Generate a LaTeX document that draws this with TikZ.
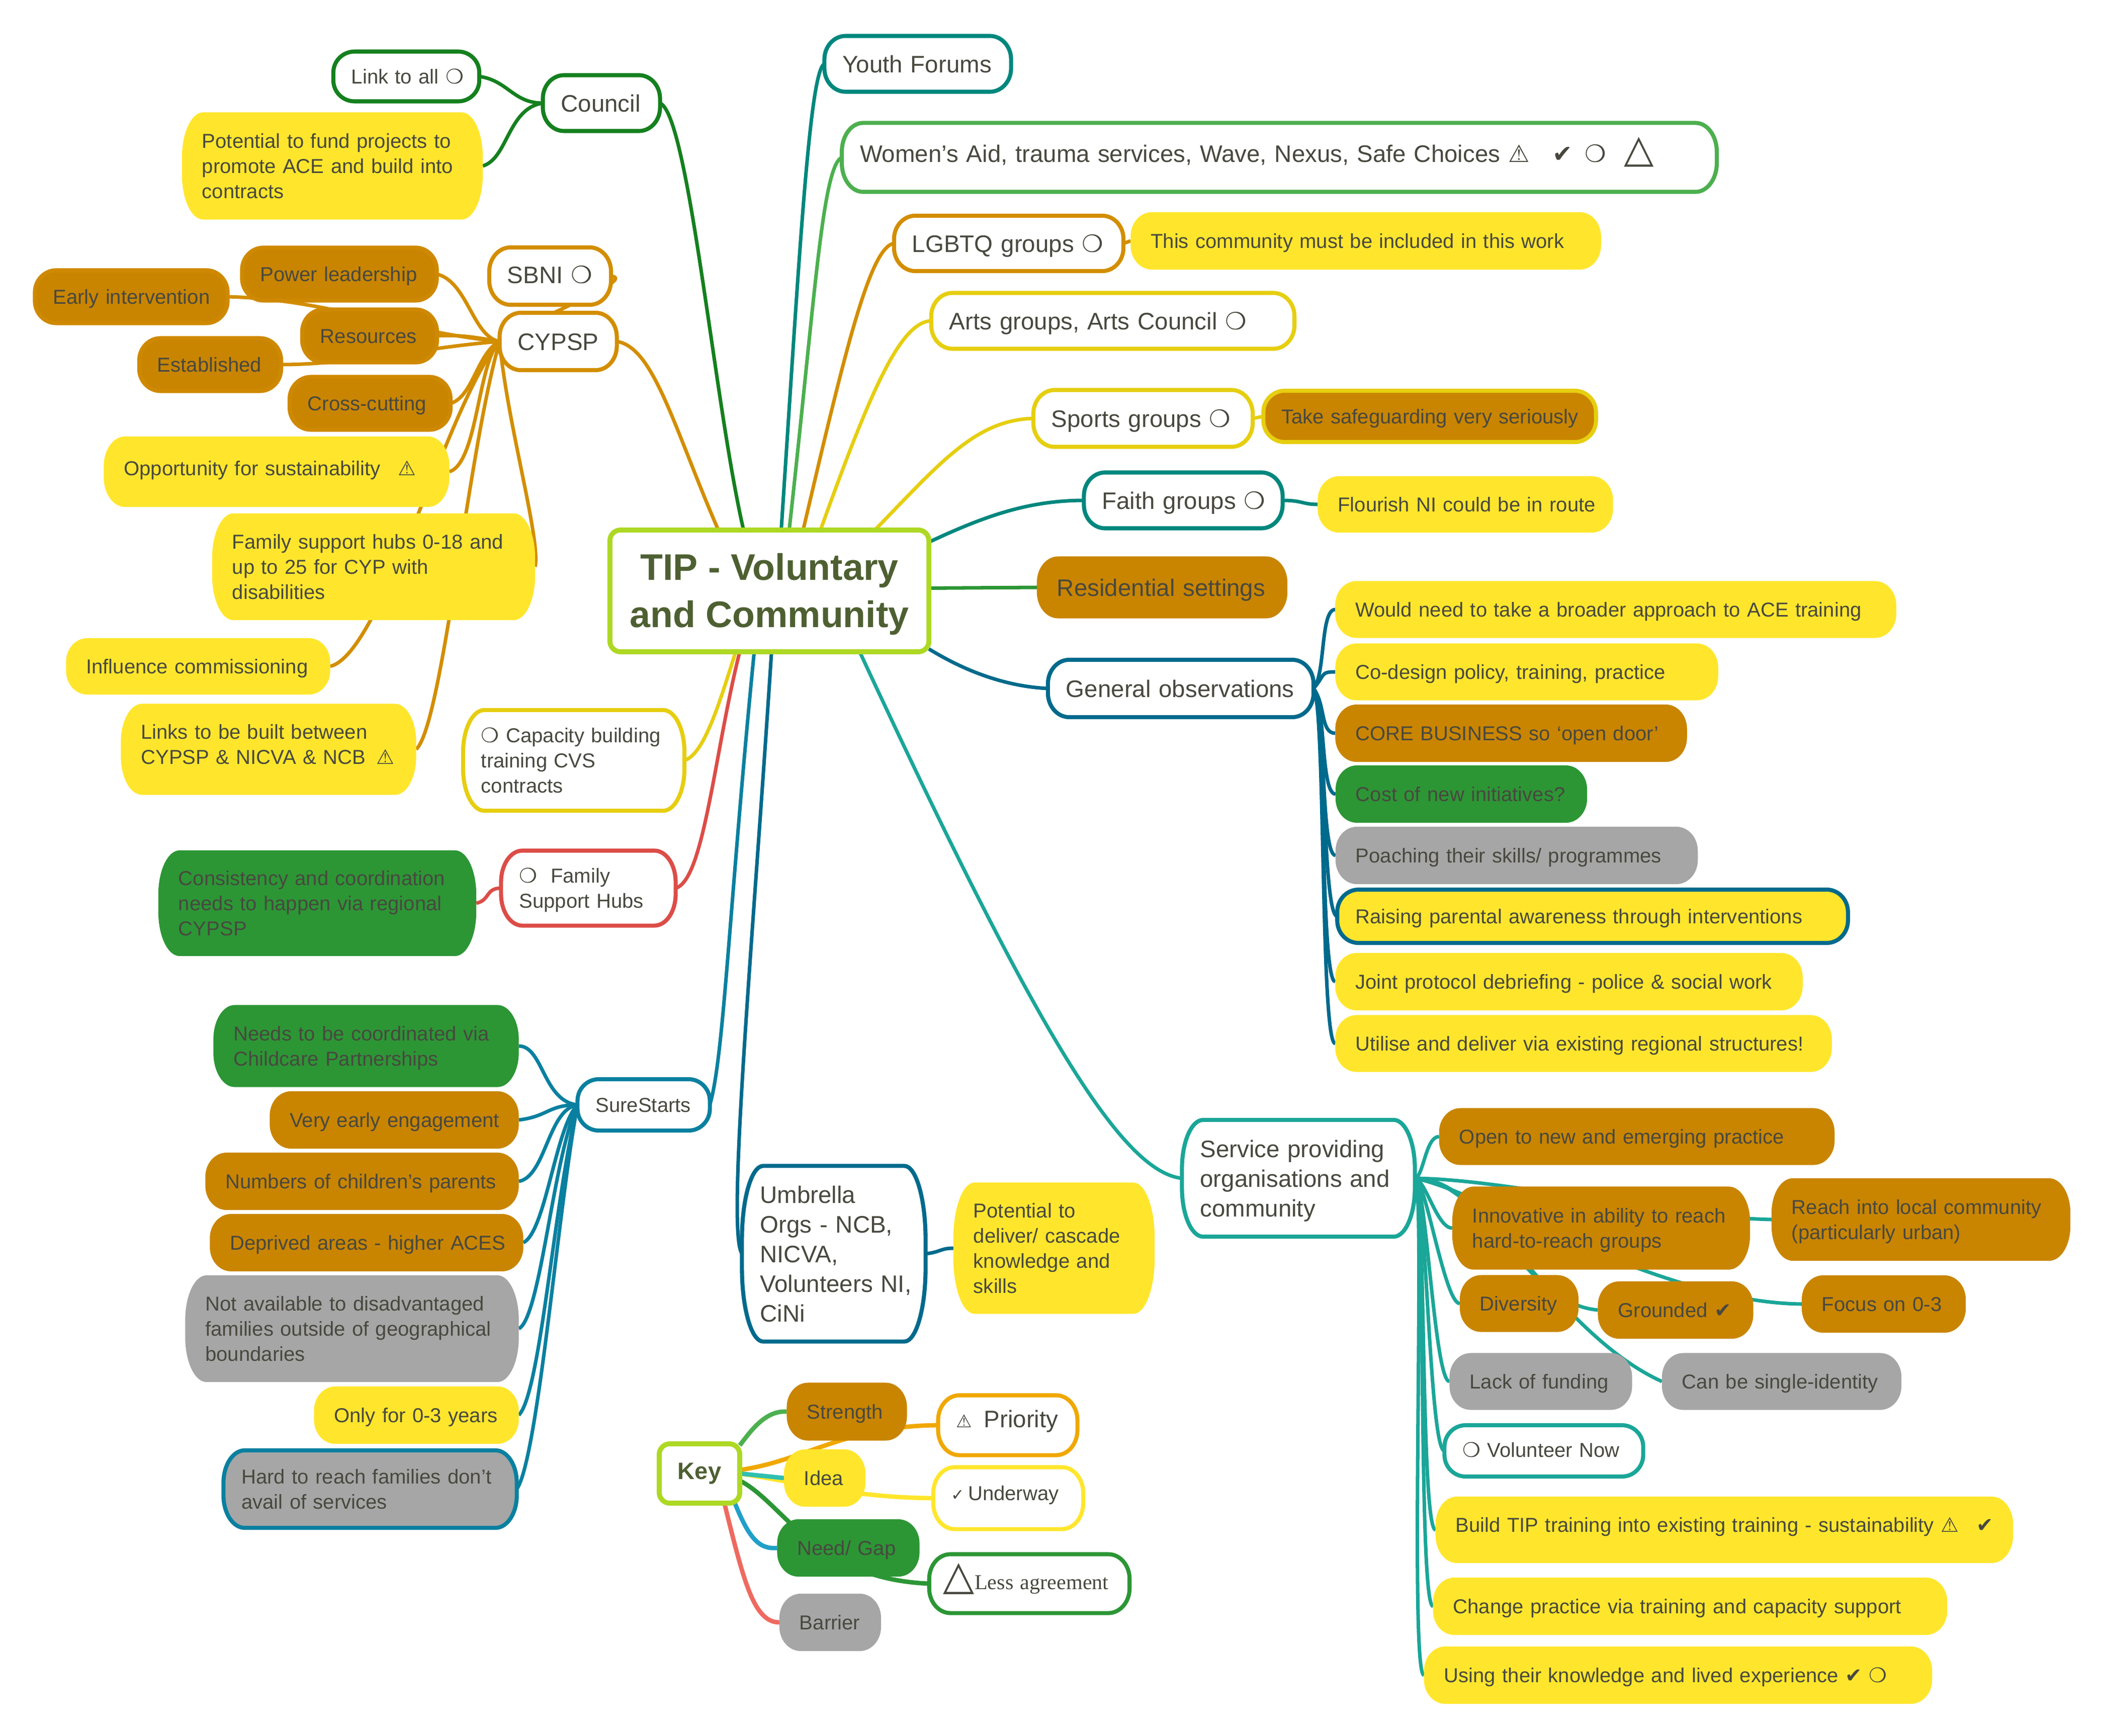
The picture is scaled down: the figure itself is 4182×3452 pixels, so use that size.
\documentclass[tikz,border=0pt]{standalone}
\usepackage{fontspec}
\setmainfont{Liberation Sans}
\newfontfamily\symfont{DejaVu Sans}
\newfontfamily\serifmark{Liberation Serif}
\usetikzlibrary{backgrounds}

\definecolor{inktext}{HTML}{48483F}
\definecolor{tiptext}{HTML}{4E6032}
\definecolor{sunfill}{HTML}{FFE62C}
\definecolor{ochrefill}{HTML}{C98500}
\definecolor{ochrerim}{HTML}{CF8900}
\definecolor{leaffill}{HTML}{2C9635}
\definecolor{greyfill}{HTML}{A6A6A6}
\definecolor{limeline}{HTML}{ADD823}
\definecolor{forestline}{HTML}{14801E}
\definecolor{amberline}{HTML}{D38E00}
\definecolor{brightamber}{HTML}{F0A800}
\definecolor{tealline}{HTML}{00877D}
\definecolor{grassline}{HTML}{4CB04E}
\definecolor{mustline}{HTML}{E6CE10}
\definecolor{petrolline}{HTML}{006A8C}
\definecolor{sealine}{HTML}{0A80A0}
\definecolor{redline}{HTML}{DC4D47}
\definecolor{serviceline}{HTML}{1AA698}
\definecolor{idealine}{HTML}{30BFB0}
\definecolor{skyline}{HTML}{20A0C8}
\definecolor{coralline}{HTML}{EE6A60}

\makeatletter
\pgfdeclareshape{pill}{
  \inheritsavedanchors[from=rectangle]
  \inheritanchorborder[from=rectangle]
  \inheritanchor[from=rectangle]{center}
  \inheritanchor[from=rectangle]{north}
  \inheritanchor[from=rectangle]{south}
  \inheritanchor[from=rectangle]{east}
  \inheritanchor[from=rectangle]{west}
  \backgroundpath{
    \southwest \edef\pillxa{\the\pgf@x}\edef\pillya{\the\pgf@y}
    \northeast \edef\pillxb{\the\pgf@x}\edef\pillyb{\the\pgf@y}
    \pgfmathsetmacro\pillry{0.42*(\pillyb-\pillya)}
    \pgfpathmoveto{\pgfpoint{\pillxa+12pt}{\pillyb}}
    \pgfpathlineto{\pgfpoint{\pillxb-12pt}{\pillyb}}
    \pgfpatharc{90}{0}{12pt and \pillry pt}
    \pgfpathlineto{\pgfpoint{\pillxb}{\pillya+\pillry pt}}
    \pgfpatharc{0}{-90}{12pt and \pillry pt}
    \pgfpathlineto{\pgfpoint{\pillxa+12pt}{\pillya}}
    \pgfpatharc{270}{180}{12pt and \pillry pt}
    \pgfpathlineto{\pgfpoint{\pillxa}{\pillyb-\pillry pt}}
    \pgfpatharc{180}{90}{12pt and \pillry pt}
    \pgfpathclose
  }
}
\makeatother

\newcommand{\ringmark}{{\symfont ❍}}
\newcommand{\warnmark}{{\symfont ⚠}}
\newcommand{\tickmark}{{\symfont ✔}}
\newcommand{\padbox}{80}

\tikzset{
  sz/.code 2 args={\pgfmathsetmacro\boxtw{(#1-\padbox)*0.284528}\pgfmathsetmacro\boxth{#2*0.284528}
    \pgfkeysalso{text width=\boxtw pt, minimum height=\boxth pt}},
  topic/.style={shape=pill, inner xsep=11.38pt, inner ysep=0pt, outer sep=0pt, align=left,
    text=inktext, font=\fontsize{11.4}{14.2}\selectfont,
    execute at begin node={\rightskip=-60pt plus 1fil\relax\rule{0pt}{.95em}},
    execute at end node={\rule[-.22em]{0pt}{0pt}}},
  large/.style={font=\fontsize{13.5}{16.8}\selectfont},
  nudge/.style={execute at end node={\par\vspace*{#1}}},
  sun/.style={topic, fill=sunfill},
  ochre/.style={topic, fill=ochrefill},
  leaf/.style={topic, fill=leaffill},
  ash/.style={topic, fill=greyfill},
  edged/.style 2 args={topic, draw=#1, fill=#2, line width=2.3pt, inner xsep=10.24pt,
    /utils/exec={\def\padbox{72}}},
  ring/.style={edged={#1}{white}},
  rimmed/.style={edged={ochrerim}{ochrefill}},
  link/.style={draw=#1, line width=2pt},
  keylink/.style={draw=#1, line width=2.5pt},
  rootbox/.style={draw=limeline, fill=white, rounded corners=6pt, line width=2.8pt, inner sep=0pt,
    outer sep=0pt, align=center, text=tiptext},
}

\begin{document}
\begin{tikzpicture}[x=0.01cm,y=-0.01cm]
  \useasboundingbox (0,0) rectangle (4182,3452);

  \node[rootbox, minimum width=634*0.284528pt, minimum height=242*0.284528pt,
    font=\fontsize{20.9}{26.7}\selectfont\bfseries] (tip) at (1530,1175) {\rule{0pt}{19pt}TIP - Voluntary\\and Community};

  \node[ring=tealline, large, sz={371}{111}] (youth) at (1825,127) {Youth Forums};
  \node[ring=grassline, large, nudge=4.6pt, sz={1739}{137}] (women) at (2544,313)
    {Women’s Aid, trauma services, Wave, Nexus, Safe Choices \warnmark\hspace{13pt}\tickmark\hspace{7pt}\ringmark\hspace{10pt}\smash{\symfont\fontsize{22}{22}\selectfont △}};
  \node[ring=amberline, large, sz={456}{110}] (lgbtq) at (2006,484) {LGBTQ groups \ringmark};
  \node[sun, sz={935}{114}] (community) at (2716,479) {This community must be included in this work};
  \node[ring=mustline, large, sz={722}{111}] (arts) at (2213,638) {Arts groups, Arts Council \ringmark};
  \node[ring=mustline, large, sz={436}{113}] (sports) at (2273,832) {Sports groups \ringmark};
  \node[edged={mustline}{ochrefill}, sz={661}{102}] (safeguard) at (2843,828) {Take safeguarding very seriously};
  \node[ring=tealline, large, sz={395}{111}] (faith) at (2353,995) {Faith groups \ringmark};
  \node[sun, sz={587}{112}] (flourish) at (2914,1003) {Flourish NI could be in route};
  \node[ochre, large, sz={498}{123}] (residential) at (2311,1168) {Residential settings};

  \node[ring=petrolline, large, sz={528}{114}] (general) at (2348,1369) {General observations};
  \node[sun, sz={1115}{113}] (would) at (3213,1212) {Would need to take a broader approach to ACE training};
  \node[sun, sz={761}{113}] (codesign) at (3036,1336) {Co-design policy, training, practice};
  \node[ochre, sz={699}{114}] (core) at (3005,1458) {CORE BUSINESS so ‘open door’};
  \node[leaf, sz={500}{114}] (cost) at (2906,1579) {Cost of new initiatives?};
  \node[ash, sz={720}{114}] (poach) at (3016,1701) {Poaching their skills/ programmes};
  \node[edged={petrolline}{sunfill}, sz={1015}{106}] (raising) at (3167,1822) {Raising parental awareness through interventions};
  \node[sun, sz={929}{114}] (joint) at (3120,1952) {Joint protocol debriefing - police \& social work};
  \node[sun, sz={987}{113}] (utilise) at (3149,2075) {Utilise and deliver via existing regional structures!};

  \node[ring=serviceline, large, sz={463}{232}] (service) at (2582,2343) {Service providing\\organisations and\\community};
  \node[ochre, sz={786}{113}] (open) at (3255,2260) {Open to new and emerging practice};
  \node[ochre, sz={592}{165}] (innovative) at (3184,2442) {Innovative in ability to reach\\hard-to-reach groups};
  \node[ochre, sz={594}{164}] (reach) at (3820,2425) {Reach into local community\\(particularly urban)};
  \node[ochre, sz={236}{113}] (diversity) at (3021,2592) {Diversity};
  \node[ochre, sz={309}{114}] (grounded) at (3332,2605) {Grounded \tickmark};
  \node[ochre, sz={326}{114}] (focus) at (3746,2593) {Focus on 0-3};
  \node[ash, sz={363}{113}] (lack) at (3064,2747) {Lack of funding};
  \node[ash, sz={476}{113}] (single) at (3543,2747) {Can be single-identity};
  \node[ring=serviceline, nudge=1.5pt, sz={395}{102}] (volunteer) at (3070,2885) {\ringmark\ Volunteer Now};
  \node[sun, nudge=5.7pt, sz={1148}{132}] (build) at (3429,3042) {Build TIP training into existing training - sustainability \warnmark\hspace{10pt}\tickmark};
  \node[sun, sz={1022}{114}] (change) at (3361,3194) {Change practice via training and capacity support};
  \node[sun, sz={1010}{114}] (using) at (3337,3331) {Using their knowledge and lived experience \tickmark\ \ringmark};

  \node[ring=forestline, large, sz={233}{111}] (council) at (1196,205) {Council};
  \node[ring=forestline, sz={290}{99}] (linkall) at (808,152) {Link to all \ringmark};
  \node[sun, sz={598}{213}] (fund) at (661,330) {Potential to fund projects to\\promote ACE and build into\\contracts};

  \node[ring=amberline, large, nudge=1.5pt, sz={242}{114}] (sbni) at (1094,549) {SBNI \ringmark};
  \node[ring=amberline, large, sz={233}{114}] (cypsp) at (1110,679) {CYPSP};
  \node[rimmed, sz={387}{105}] (power) at (675,545) {Power leadership};
  \node[rimmed, sz={383}{105}] (early) at (261,590) {Early intervention};
  \node[rimmed, sz={268}{105}] (resources) at (735,668) {Resources};
  \node[rimmed, sz={282}{105}] (established) at (418,725) {Established};
  \node[rimmed, sz={320}{105}] (crosscut) at (736,802) {Cross-cutting};
  \node[sun, nudge=4.2pt, sz={687}{140}] (sustain) at (550,938) {Opportunity for sustainability\hspace{10pt}\warnmark};
  \node[sun, sz={642}{212}] (hubs) at (743,1127) {Family support hubs 0-18 and\\up to 25 for CYP with\\disabilities};
  \node[sun, sz={525}{112}] (influence) at (394,1325) {Influence commissioning};
  \node[sun, nudge=5.7pt, sz={587}{181}] (linksbuilt) at (534,1490) {Links to be built between\\CYPSP \& NICVA \& NCB\hspace{6pt}\warnmark};

  \node[ring=mustline, sz={440}{200}] (capacity) at (1141,1512) {\ringmark\ Capacity building\\training CVS\\contracts};
  \node[ring=redline, sz={347}{149}] (supporthubs) at (1170,1766) {\ringmark\ \ Family\\Support Hubs};
  \node[leaf, sz={632}{210}] (consistency) at (631,1796) {Consistency and coordination\\needs to happen via regional\\CYPSP};

  \node[ring=sealine, sz={263}{102}] (surestarts) at (1280,2197) {SureStarts};
  \node[leaf, sz={607}{163}] (needs) at (728,2080) {Needs to be coordinated via\\Childcare Partnerships};
  \node[ochre, sz={495}{114}] (veryearly) at (784,2227) {Very early engagement};
  \node[ochre, sz={623}{114}] (numbers) at (720,2349) {Numbers of children’s parents};
  \node[ochre, sz={623}{114}] (deprived) at (729,2471) {Deprived areas - higher ACES};
  \node[ash, sz={663}{212}] (notavail) at (700,2642) {Not available to disadvantaged\\families outside of geographical\\boundaries};
  \node[sun, sz={407}{114}] (only) at (828,2814) {Only for 0-3 years};
  \node[edged={sealine}{greyfill}, sz={583}{154}] (hard) at (736,2961) {Hard to reach families don’t\\avail of services};

  \node[ring=petrolline, large, sz={365}{349}] (umbrella) at (1658,2493) {Umbrella\\Orgs - NCB,\\NICVA,\\Volunteers NI,\\CiNi};
  \node[sun, sz={400}{261}] (deliver) at (2096,2482) {Potential to\\deliver/ cascade\\knowledge and\\skills};

  \node[rootbox, minimum width=160*0.284528pt, minimum height=118*0.284528pt,
    font=\fontsize{13.4}{16}\selectfont\bfseries] (key) at (1391,2930) {Key};
  \node[ochre, sz={239}{115}] (strength) at (1684,2807) {Strength};
  \node[sun, sz={162}{114}] (idea) at (1640,2939) {Idea};
  \node[leaf, sz={283}{114}] (need) at (1687,3078) {Need/ Gap};
  \node[ash, sz={202}{114}] (barrier) at (1651,3226) {Barrier};
  \node[ring=brightamber, large, nudge=7.2pt, sz={277}{119}] (priority) at (2004,2834) {{\symfont\fontsize{10}{10}\selectfont ⚠}\ \,Priority};
  \node[ring=sunfill, nudge=5.7pt, sz={298}{123}] (underway) at (2005,2979) {{\symfont\fontsize{9}{9}\selectfont ✓}\,Underway};
  \node[ring=leaffill, nudge=5.7pt, sz={414}{117}, inner xsep=8pt] (less) at (2047,3149)
    {{\symfont\fontsize{23}{20}\selectfont △}{\serifmark\fontsize{12}{13}\selectfont Less agreement}};

  \begin{scope}[on background layer]
    % root branches
    \draw[link=forestline] (council.east) .. controls (1370,230) and (1420,800) .. (tip.113);
    \draw[link=amberline] (cypsp.east) .. controls (1300,690) and (1340,850) .. (tip.130);
    \draw[link=tealline] (youth.west) .. controls (1610,140) and (1590,500) .. (tip.79);
    \draw[link=grassline] (women.west) .. controls (1635,330) and (1620,600) .. (tip.72);
    \draw[link=amberline] (lgbtq.west) .. controls (1730,490) and (1680,700) .. (tip.61);
    \draw[link=mustline] (arts.west) .. controls (1790,640) and (1730,780) .. (tip.50);
    \draw[link=mustline] (sports.west) .. controls (1940,835) and (1870,920) .. (tip.30);
    \draw[link=tealline] (faith.west) .. controls (2040,995) and (1950,1030) .. (tip.17);
    \draw[link=leaffill] (tip.1) -- (residential.west);
    \draw[link=petrolline] (general.west) .. controls (2000,1365) and (1920,1335) .. (tip.-20);
    \draw[link=mustline] (capacity.east) .. controls (1400,1500) and (1430,1400) .. (tip.241);
    \draw[link=redline] (supporthubs.east) .. controls (1400,1750) and (1420,1500) .. (tip.244);
    \draw[link=sealine] (surestarts.east) .. controls (1440,2100) and (1450,1800) .. (tip.256);
    \draw[link=petrolline] (umbrella.west) .. controls (1445,2450) and (1495,1900) .. (tip.272);
    \draw[link=serviceline] (service.west) .. controls (2230,2330) and (2060,2050) .. (tip.-34.5);

    \draw[link=amberline] (lgbtq.east) -- (community.west);
    \draw[link=mustline] (sports.east) -- (safeguard.west);
    \draw[link=tealline] (faith.east) .. controls (2590,995) and (2590,1003) .. (flourish.west);
    \draw[link=petrolline] (umbrella.east) .. controls (1870,2490) and (1870,2482) .. (deliver.west);

    \draw[link=forestline] (linkall.east) .. controls (1010,160) and (1020,205) .. (council.west);
    \draw[link=forestline] (fund.east) .. controls (1010,315) and (1010,215) .. (council.west);

    % CYPSP
    \draw[link=amberline] (sbni.east) .. controls (1265,555) and (1090,620) .. (cypsp.west);
    \draw[link=amberline] (power.east) .. controls (930,560) and (940,670) .. (cypsp.west);
    \draw[link=amberline] (early.east) .. controls (650,595) and (800,660) .. (cypsp.west);
    \draw[link=amberline] (resources.east) .. controls (920,665) and (950,672) .. (cypsp.west);
    \draw[link=amberline] (established.east) .. controls (700,725) and (850,690) .. (cypsp.west);
    \draw[link=amberline] (crosscut.east) .. controls (940,790) and (950,700) .. (cypsp.west);
    \draw[link=amberline] (sustain.east) .. controls (950,920) and (950,720) .. (cypsp.west);
    \draw[link=amberline] (hubs.east) .. controls (1075,1070) and (1010,850) .. (cypsp.west);
    \draw[link=amberline] (influence.east) .. controls (760,1300) and (890,800) .. (cypsp.west);
    \draw[link=amberline] (linksbuilt.east) .. controls (880,1440) and (930,900) .. (cypsp.west);

    \draw[link=redline] (consistency.east) .. controls (975,1790) and (965,1766) .. (supporthubs.west);

    % SureStarts
    \draw[link=sealine] (needs.east) .. controls (1080,2080) and (1080,2190) .. (surestarts.west);
    \draw[link=sealine] (veryearly.east) .. controls (1090,2220) and (1090,2197) .. (surestarts.west);
    \draw[link=sealine] (numbers.east) .. controls (1085,2340) and (1090,2205) .. (surestarts.west);
    \draw[link=sealine] (deprived.east) .. controls (1085,2450) and (1105,2240) .. (surestarts.west);
    \draw[link=sealine] (notavail.east) .. controls (1075,2620) and (1100,2300) .. (surestarts.west);
    \draw[link=sealine] (only.east) .. controls (1075,2770) and (1100,2400) .. (surestarts.west);
    \draw[link=sealine] (hard.east) .. controls (1070,2900) and (1110,2400) .. (surestarts.west);

    % General observations
    \foreach \kid/\dy in {would/-28,codesign/-28,core/32,cost/32,poach/32,raising/32,joint/32,utilise/32}
      \draw[link=petrolline] (general.east) .. controls +(24,\dy) and +(-30,0) .. (\kid.west);

    % Service providing
    \foreach \kid in {innovative,diversity,lack,volunteer,build,change,using}
      \draw[link=serviceline] (service.east) .. controls +(22,5) and +(-30,0) .. (\kid.west);
    \draw[link=serviceline] (service.east) .. controls +(17,-3) and +(-27,0) .. (open.west);
    \draw[link=serviceline] (service.east) .. controls (3000,2345) and (3300,2420) .. (reach.west);
    \draw[link=serviceline] (service.east) .. controls (2950,2370) and (3300,2590) .. (focus.west);
    \draw[link=serviceline] (service.east) .. controls (2960,2345) and (3020,2590) .. (grounded.west);
    \draw[link=serviceline] (service.east) .. controls (2950,2340) and (3090,2650) .. (single.west);

    % Key
    \draw[keylink=grassline] (key.35) .. controls (1490,2850) and (1520,2804) .. (strength.west);
    \draw[keylink=brightamber] (key.5) .. controls (1600,2905) and (1680,2835) .. (priority.west);
    \draw[keylink=sunfill] (key.east) .. controls (1600,2950) and (1700,2978) .. (underway.west);
    \draw[keylink=idealine] (key.east) -- (idea.west);
    \draw[keylink=leaffill] (key.-10) .. controls (1560,2990) and (1620,3140) .. (less.west);
    \draw[keylink=skyline] (key.-40) .. controls (1490,3060) and (1510,3081) .. (need.west);
    \draw[keylink=coralline] (key.-50) .. controls (1480,3150) and (1500,3226) .. (barrier.west);
  \end{scope}
\end{tikzpicture}
\end{document}
